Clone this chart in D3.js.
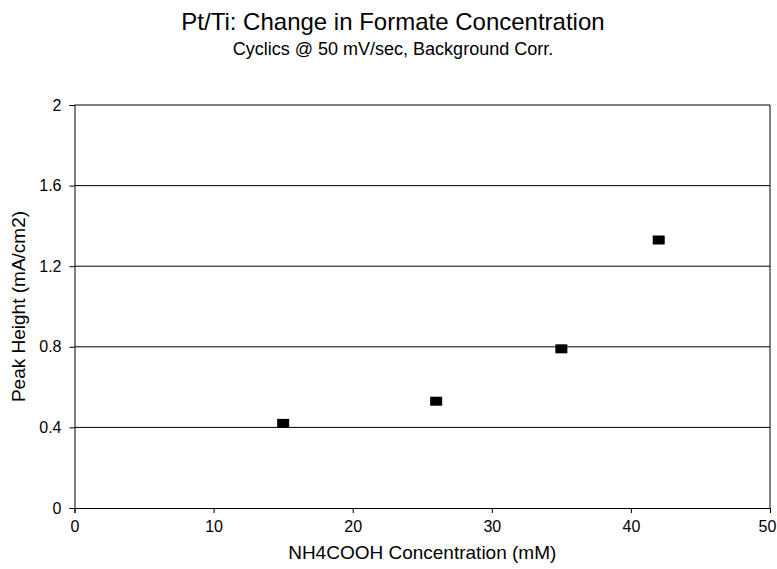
<!DOCTYPE html>
<html>
<head>
<meta charset="utf-8">
<script src="https://cdn.jsdelivr.net/npm/d3@7"></script>
<style>
  body { margin: 0; background: #fff; }
  svg { display: block; font-family: "Liberation Sans", Arial, sans-serif; }
</style>
</head>
<body>
<svg width="777" height="569"></svg>
<script>
// Data
var concentration = [15, 26, 35, 42];
var peakHeight = [0.42, 0.53, 0.79, 1.33];
var xTicks = [0, 10, 20, 30, 40, 50];
var yTicks = [0, 0.4, 0.8, 1.2, 1.6, 2];

var svg = d3.select('svg');
var margin = {top: 105, right: 7, bottom: 61, left: 74.5};
var width = 777 - margin.left - margin.right;
var height = 569 - margin.top - margin.bottom;

var g = svg.append('g')
    .attr('transform', 'translate(' + margin.left + ',' + margin.top + ')');

var x = d3.scaleLinear().domain([0, 50]).range([0, width]);
var y = d3.scaleLinear().domain([0, 2]).range([height, 0]);

// Gridlines
g.selectAll('.grid')
    .data(yTicks.slice(1))
    .enter()
    .append('line')
    .attr('x1', 0)
    .attr('x2', width)
    .attr('y1', function(d){ return y(d); })
    .attr('y2', function(d){ return y(d); })
    .attr('stroke', '#000')
    .attr('stroke-width', 1);

// Axes
var xAxis = g.append('g')
    .attr('transform', 'translate(0,' + height + ')')
    .call(d3.axisBottom(x).tickValues(xTicks).tickSize(5).tickPadding(8)
        .tickFormat(d3.format('d')));
var yAxis = g.append('g')
    .call(d3.axisLeft(y).tickValues(yTicks).tickSize(5).tickPadding(8)
        .tickFormat(function(d){ return d3.format('')(d); }));

// Right border
g.append('line')
    .attr('x1', width).attr('x2', width)
    .attr('y1', 0).attr('y2', height)
    .attr('stroke', '#000');

[xAxis, yAxis].forEach(function(a){
    a.select('.domain').attr('stroke', '#000');
    a.selectAll('.tick line').attr('stroke', '#000');
    a.selectAll('.tick text')
        .attr('fill', '#000')
        .style('font-size', '16px')
        .style('font-family', '"Liberation Sans", Arial, sans-serif');
});
// keep the last x label inside the window
xAxis.selectAll('.tick text')
    .filter(function(d){ return d === 50; })
    .attr('dx', -3);

// Points
g.selectAll('rect.pt')
    .data(concentration)
    .enter()
    .append('rect')
    .attr('class', 'pt')
    .attr('x', function(d){ return x(d) - 6; })
    .attr('y', function(d, i){ return y(peakHeight[i]) - 4.5; })
    .attr('width', 12)
    .attr('height', 9)
    .attr('fill', '#000');

// Titles
svg.append('text')
    .attr('x', 393).attr('y', 30)
    .attr('text-anchor', 'middle')
    .style('font-size', '24px')
    .text('Pt/Ti: Change in Formate Concentration');
svg.append('text')
    .attr('x', 393).attr('y', 55)
    .attr('text-anchor', 'middle')
    .style('font-size', '18px')
    .text('Cyclics @ 50 mV/sec, Background Corr.');

svg.append('text')
    .attr('x', margin.left + width / 2).attr('y', 559)
    .attr('text-anchor', 'middle')
    .style('font-size', '19px')
    .text('NH4COOH Concentration (mM)');

svg.append('text')
    .attr('transform', 'translate(25,' + (margin.top + height / 2) + ') rotate(-90)')
    .attr('text-anchor', 'middle')
    .style('font-size', '19px')
    .text('Peak Height (mA/cm2)');
</script>
</body>
</html>
